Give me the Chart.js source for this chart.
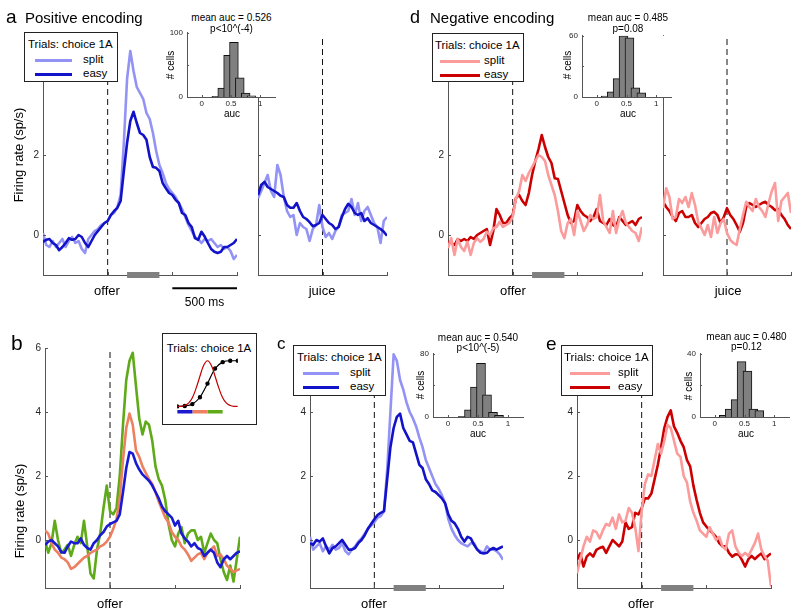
<!DOCTYPE html>
<html lang="en">
<head>
<meta charset="UTF-8">
<title>Positive / negative encoding</title>
<script src="https://cdn.jsdelivr.net/npm/chart.js@4.4.1/dist/chart.umd.min.js"></script>
<style>
  body { margin: 0; background: #fff; }
  #fig { position: relative; width: 800px; height: 615px; overflow: hidden; font-family: Arial, "Liberation Sans", sans-serif; color: #000; }
  #fig canvas, #fig .t, #fig .box, #fig .swatch { position: absolute; }
  .t { white-space: nowrap; line-height: 1; }
  .box { background: #fff; border: 1px solid #222; box-sizing: border-box; }
</style>
</head>
<body>
<div id="fig"></div>
<script>
// time bins, ms from the event
const offerMs = [-500,-475,-450,-425,-400,-375,-350,-325,-300,-275,-250,-225,-200,-175,-150,-125,-100,-75,-50,-25,0,25,50,75,100,125,150,175,200,225,250,275,300,325,350,375,400,425,450,475,500,525,550,575,600,625,650,675,700,725,750,775,800,825,850,875,900,925,950,975,1000];
const juiceMs = [-500,-475,-450,-425,-400,-375,-350,-325,-300,-275,-250,-225,-200,-175,-150,-125,-100,-75,-50,-25,0,25,50,75,100,125,150,175,200,225,250,275,300,325,350,375,400,425,450,475,500];

// a - positive encoding
const aOfferSplit = [0.05,-0.25,-0.3,-0.15,-0.3,-0.2,-0.1,-0.3,-0.15,-0.05,-0.2,-0.15,-0.35,-0.45,-0.1,0,0.1,0.15,0.25,0.3,0.35,0.5,0.55,0.7,1.0,2.3,3.9,4.6,4.1,3.7,3.55,3.4,3.05,2.9,2.55,2.1,1.75,1.55,1.3,1.15,1.05,0.95,0.8,0.65,0.45,0.25,0.1,-0.05,-0.1,-0.2,-0.1,-0.15,-0.1,-0.2,-0.3,-0.25,-0.35,-0.3,-0.4,-0.6,-0.5];
const aOfferEasy = [-0.17,-0.12,-0.1,-0.2,-0.25,-0.38,-0.3,-0.2,-0.08,-0.12,-0.1,0,-0.05,-0.2,-0.3,-0.15,0,0.1,0.2,0.3,0.35,0.5,0.6,0.68,0.85,1.6,2.3,2.85,3.08,2.8,2.55,2.5,2.38,1.95,1.7,1.68,1.6,1.3,1.17,1.05,1.0,0.88,0.8,0.55,0.5,0.3,0.2,-0.08,-0.12,0.08,-0.04,-0.2,-0.35,-0.42,-0.45,-0.42,-0.3,-0.3,-0.25,-0.2,-0.1];
const aJuiceSplit = [0.92,1.1,1.3,1.5,1.1,0.95,1.75,1.5,0.95,0.6,0.45,0.5,0,0.3,0.2,0.15,-0.15,0.15,0.25,0.75,0.2,-0.05,0.05,-0.1,0.1,0.2,0.5,0.55,0.6,0.9,0.5,0.8,0.35,0.6,0.7,0.5,0.3,0.2,-0.2,0.35,0.45];
const aJuiceEasy = [1.0,1.25,1.33,1.2,1.15,1.1,1.05,0.98,0.95,0.75,0.68,0.68,0.8,0.6,0.45,0.4,0.32,0.22,0.25,0.3,0.5,0.4,0.3,0.25,0.15,0.2,0.45,0.65,0.78,0.7,0.55,0.5,0.55,0.35,0.42,0.3,0.25,0.2,0.15,0.08,-0.02];

// d - negative encoding
const dOfferSplit = [-0.33,-0.08,-0.5,-0.1,-0.3,-0.4,-0.17,-0.5,-0.2,-0.08,-0.17,-0.1,0.08,0,0.17,0.2,0.33,0.2,0.25,0.3,0.45,0.9,1.1,1.5,1.35,1.55,1.7,1.85,2.0,1.95,1.85,1.5,1.25,1.0,0.6,0.1,-0.08,0.3,0.4,0,0.6,0.35,0.1,0.25,0.5,0.4,0.45,1.0,0.35,0.2,0.05,0.6,0.05,0.4,0.6,0.3,0.2,0.1,0.05,-0.15,0.2];
const dOfferEasy = [-0.17,-0.2,-0.25,-0.1,-0.15,-0.1,-0.15,-0.05,-0.1,0,0.05,0.1,0.15,-0.25,0.1,0.65,0.5,0.3,0.3,0.42,0.5,0.92,1.0,0.85,0.75,1.05,1.5,1.85,2.15,2.5,2.2,1.95,1.8,1.42,1.4,1.1,0.8,0.5,0.3,0.35,0.75,0.6,0.5,0.45,0.35,0.45,0.65,0.35,0.3,0.25,0.4,0.25,0.2,0.45,0.35,0.25,0.3,0.35,0.25,0.4,0.45];
const dJuiceSplit = [0.67,1.17,0.95,0.4,0.45,0.9,0.8,0.95,0.7,1.05,0.75,0.33,0.17,0,0.25,-0.05,0.45,0.05,0.3,0.4,0.05,-0.12,-0.2,-0.25,0.15,0.5,0.83,0.7,0.6,0.9,0.7,0.6,0.45,0.8,1.1,1.3,0.35,0.85,0.95,1.05,0.55];
const dJuiceEasy = [0.83,0.7,0.6,0.45,0.35,0.55,0.6,0.45,0.45,0.5,0.3,0.2,0.3,0.4,0.45,0.55,0.58,0.5,0.3,0.45,0.67,0.5,0.4,0.25,0.08,0.3,0.7,0.8,0.75,0.7,0.75,0.8,0.83,0.75,0.7,0.62,0.65,0.5,0.4,0.25,0.15];

// b - three difficulty groups
const bLow = [-0.16,-0.05,0,-0.1,-0.2,-0.38,-0.4,-0.2,-0.05,-0.1,-0.1,0.05,-0.15,-0.25,-0.3,-0.1,0,0.15,0.25,0.42,0.5,0.55,0.6,0.8,1.5,2.25,2.75,2.7,2.4,2.2,2.05,1.95,1.85,1.7,1.5,1.3,1.05,0.9,0.8,0.7,0.45,0.6,0.2,0.05,-0.05,-0.2,-0.1,-0.25,-0.3,-0.5,-0.4,-0.3,-0.4,-0.7,-0.85,-0.6,-0.5,-0.6,-0.5,-0.4,-0.35];
const bMid = [0.3,0.2,-0.1,-0.3,-0.4,-0.55,-0.6,-0.7,-0.9,-0.85,-0.75,-0.65,-0.55,-0.5,-0.4,-0.35,-0.3,-0.2,-0.15,-0.05,0.1,0.35,0.65,1.3,2.5,3.5,3.95,3.6,2.8,2.6,2.3,2.1,1.9,1.75,1.5,1.2,0.95,0.7,0.55,0.25,0.1,0,-0.2,-0.3,-0.45,-0.65,-0.55,-0.45,-0.4,-0.6,-0.4,-0.3,-0.2,-0.5,-0.45,-0.6,-0.8,-0.9,-1.0,-0.95,-0.9];
const bHigh = [0,-0.4,-0.1,0.6,0,-0.4,-0.3,-0.15,-0.5,-0.15,0.1,-0.1,0.6,-0.2,-1.05,-1.2,-0.3,0.2,1.0,1.7,0.9,0.8,1.0,2.0,3.6,5.0,5.6,5.85,4.8,3.8,3.3,3.7,3.6,3.1,2.3,1.9,1.7,1.25,0.5,0,-0.2,0.2,0.4,-0.1,0.2,0.3,0.3,0,0.1,-0.4,-0.1,0.2,0,-0.1,-0.6,-1.0,-1.25,-0.8,-1.3,-0.6,0.1];

// c and e
const cSplit = [0.1,-0.3,-0.2,-0.1,-0.35,-0.2,-0.3,-0.15,-0.3,-0.25,-0.1,-0.35,-0.45,-0.3,-0.2,-0.05,0.05,0.2,0.35,0.45,0.55,0.7,0.75,0.9,2.2,4.0,5.8,5.6,5.0,4.7,4.3,4.0,3.8,3.55,3.2,2.9,2.5,2.25,2.0,1.75,1.6,1.4,1.15,0.65,0.35,0.15,0,-0.1,-0.15,-0.2,-0.1,-0.1,-0.3,-0.35,-0.4,-0.2,-0.3,-0.3,-0.35,-0.45,-0.62];
const cEasy = [-0.1,-0.15,0,-0.05,0.05,-0.2,-0.42,-0.25,-0.2,-0.1,0,-0.15,-0.3,-0.3,-0.25,-0.1,0,0.15,0.35,0.5,0.65,0.78,0.85,0.9,1.9,2.9,3.5,3.85,3.95,3.5,3.3,3.1,3.05,2.7,2.35,2.25,1.9,1.75,1.55,1.5,1.4,1.3,1.15,0.8,0.6,0.52,0.35,0.1,-0.05,0.1,0.05,-0.15,-0.3,-0.4,-0.42,-0.4,-0.3,-0.25,-0.3,-0.25,-0.2];
const eSplit = [-1.04,-0.62,-0.2,0.1,-0.05,0.3,0.25,0.05,0.3,0.5,0.45,0.7,0.35,0.8,0.55,0.6,1.0,0.85,0.4,-0.35,0.9,1.75,2.05,2.0,2.5,3.0,2.7,3.1,3.6,3.5,3.1,2.7,2.6,2.0,1.8,1.2,0.85,0.6,0.3,0.2,0.1,0.4,0.2,0,0.1,-0.2,-0.3,0.2,0.3,-0.2,-0.4,-0.5,-0.4,-0.5,-0.3,-0.1,0.2,-0.3,-0.5,-0.65,-1.45];
const eEasy = [-0.62,-0.42,-0.83,-0.52,-0.42,-0.52,-0.31,-0.25,-0.21,-0.4,-0.2,0,-0.1,-0.2,-0.05,0.55,0.35,0.4,0.85,0.8,1.0,1.3,1.3,1.45,1.9,2.35,2.9,3.5,3.85,4.05,3.55,3.35,3.1,2.9,2.5,2.3,1.7,1.25,0.85,0.55,0.42,0.31,0.21,0.1,-0.1,-0.2,-0.2,-0.4,-0.52,-0.45,-0.45,-0.62,-0.83,-0.6,-0.5,-0.6,-0.5,-0.42,-0.6,-0.5,-0.42];

// auc histograms (bin centres, cell counts)
const aucBins = [0.15,0.25,0.35,0.45,0.55,0.65,0.75,0.85];
const aHist = [0,1,14,65,85,30,6,2];
const dHist = [1,5,18,60,58,9,4,0];
const cHist = [0,1,9,38,68,28,6,2];
const eHist = [1,5,11,35,29,5,4,0];

// b legend sketch
const sketchX = [0,0.5,1,1.5,2,2.5,3,3.5,4,4.5,5,5.5,6,6.5,7,7.5,8];
const sketchBell = [0,0,0.02,0.07,0.19,0.4,0.66,0.9,1.0,0.9,0.66,0.4,0.19,0.07,0.02,0,0];
const sketchDotX = [0,1,2,3,4,5,6,7,8];
const sketchSig = [0,0.01,0.05,0.2,0.5,0.83,0.97,1.0,1.0];
const groupEdges = [0,2,4,6];

const windowMs = [150, 400];
const scaleBarMs = [500, 1000];
const yTicksTop = [0, 2, 4];
const yTicksBottom = [0, 2, 4, 6];

const AX = '#555';
const TXT = '#262626';
const splitBlue = '#9393f5', easyBlue = '#1212c8';
const splitRed = '#fb9b9b', easyRed = '#cc0000';
const grpColors = ['#1a1ad2', '#ec8060', '#5faa18'];

Chart.defaults.font.family = 'Arial, "Liberation Sans", sans-serif';
const fig = document.getElementById('fig');

// inward tick marks + optional white plot background
Chart.register({
  id: 'inTicks',
  beforeDraw(chart, args, o) {
    if (!o.bg) return;
    const a = chart.chartArea, ctx = chart.ctx;
    ctx.save(); ctx.fillStyle = '#fff';
    ctx.fillRect(a.left, a.top, a.right - a.left, a.bottom - a.top);
    ctx.restore();
  },
  afterDatasetsDraw(chart, args, o) {
    const {ctx, chartArea: a, scales} = chart;
    const len = o.len || 3;
    ctx.save(); ctx.strokeStyle = AX; ctx.lineWidth = 1; ctx.beginPath();
    (o.x || []).forEach(v => {
      const p = Math.round(scales.x.getPixelForValue(v)) + 0.5;
      ctx.moveTo(p, a.bottom); ctx.lineTo(p, a.bottom - len);
    });
    (o.y || []).forEach(v => {
      const p = Math.round(scales.y.getPixelForValue(v)) + 0.5;
      ctx.moveTo(a.left, p); ctx.lineTo(a.left + len, p);
    });
    ctx.stroke(); ctx.restore();
  }
});

function makeCanvas(plot, pad, yW, xH) {
  const [L, T, R, B] = plot;
  const cv = document.createElement('canvas');
  const w = pad.left + yW + (R - L) + pad.right;
  const h = pad.top + (B - T) + xH + pad.bottom;
  cv.width = w; cv.height = h;
  cv.style.left = (L - yW - pad.left) + 'px';
  cv.style.top = (T - pad.top) + 'px';
  cv.style.width = w + 'px'; cv.style.height = h + 'px';
  fig.appendChild(cv);
  return cv;
}

function scales(o) {
  return {
    x: {
      type: 'linear', min: o.x[0], max: o.x[1],
      border: { color: AX, width: 1 },
      grid: { display: false, drawTicks: false },
      ticks: { display: !!o.xLab, padding: 2, color: TXT, font: { size: o.fs }, maxRotation: 0, autoSkip: false,
               callback: v => o.xLab ? o.xLab(v) : '' },
      afterBuildTicks: s => { s.ticks = o.xt.map(v => ({ value: v })); },
      afterFit: s => { s.height = o.xH; }
    },
    y: {
      min: o.y[0], max: o.y[1],
      border: { color: AX, width: 1 },
      grid: { display: false, drawTicks: false },
      ticks: { display: !!o.yLab, padding: 4, color: TXT, font: { size: o.fs }, autoSkip: false,
               callback: v => o.yLab ? o.yLab(v) : '' },
      afterBuildTicks: s => { s.ticks = o.yt.map(v => ({ value: v })); },
      afterFit: s => { s.width = o.yW; }
    }
  };
}

// firing rate traces; lines listed top-most first
function traceChart(plot, times, lines, o) {
  const yW = o.labels ? 28 : 2;
  const pad = { left: 2, top: 10, right: 8, bottom: o.padB || 10 };
  const cv = makeCanvas(plot, pad, yW, 0);
  const datasets = lines.map((ln, k) => ({
    data: times.map((t, i) => ({ x: t, y: ln.v[i] })),
    borderColor: ln.c, borderWidth: 2.6, pointRadius: 0, tension: 0,
    borderJoinStyle: 'round', order: k + 1
  }));
  datasets.push({ data: [{ x: 0, y: o.y[0] }, { x: 0, y: o.y[1] }], borderColor: '#111',
    borderWidth: 1, borderDash: [6, 4], pointRadius: 0, order: 50 });
  if (o.win) datasets.push({ data: windowMs.map(t => ({ x: t, y: o.y[0] })), borderColor: '#808080',
    borderWidth: 6, pointRadius: 0, clip: false, order: 0 });
  if (o.bar) datasets.push({ data: scaleBarMs.map(t => ({ x: t, y: o.bar })), borderColor: '#000',
    borderWidth: 2, pointRadius: 0, clip: false, order: 0 });
  const xt = times[times.length - 1] > 500 ? [-500, 0, 500, 1000] : [-500, 0, 500];
  const hideAbove = o.labelMax === undefined ? Infinity : o.labelMax;
  new Chart(cv, {
    type: 'line',
    data: { datasets },
    options: {
      responsive: false, animation: false, devicePixelRatio: 1,
      layout: { padding: pad },
      plugins: { legend: { display: false }, tooltip: { enabled: false }, inTicks: { x: xt, y: o.yt } },
      scales: scales({ x: [times[0], times[times.length - 1]], y: o.y, xt, yt: o.yt, xH: 0, yW,
                       fs: 10, yLab: o.labels ? (v => (v > hideAbove ? '' : String(v))) : null })
    }
  });
}

function histChart(plot, counts, top) {
  const pad = { left: 2, top: 8, right: 8, bottom: 2 };
  const yW = 22, xH = 12;
  const cv = makeCanvas(plot, pad, yW, xH);
  const pts = aucBins.map((b, i) => ({ x: b, y: counts[i] })).filter(p => p.y > 0);
  const yt = [0, top / 2, top];
  new Chart(cv, {
    type: 'bar',
    data: { datasets: [{ data: pts, backgroundColor: '#808080', borderColor: '#111', borderWidth: 1,
                         barThickness: (plot[2] - plot[0]) / 10 }] },
    options: {
      responsive: false, animation: false, devicePixelRatio: 1,
      layout: { padding: pad },
      plugins: { legend: { display: false }, tooltip: { enabled: false },
                 inTicks: { x: [0, 0.5, 1], y: yt, bg: true, len: 2 } },
      scales: scales({ x: [0, 1], y: [0, top], xt: [0, 0.5, 1], yt, xH, yW, fs: 8,
                       xLab: v => String(v), yLab: v => (v === top / 2 ? '' : String(v)) })
    }
  });
}

function sketchChart(plot) {
  const pad = { left: 3, top: 3, right: 3, bottom: 3 };
  const cv = makeCanvas(plot, pad, 0, 0);
  const datasets = [
    { data: sketchX.map((x, i) => ({ x, y: sketchBell[i] })), borderColor: '#c00000', borderWidth: 1.2,
      pointRadius: 0, tension: 0.4 },
    { data: sketchDotX.map((x, i) => ({ x, y: sketchSig[i] })), borderColor: '#000', borderWidth: 1.2,
      pointRadius: 1.6, pointBackgroundColor: '#000', cubicInterpolationMode: 'monotone' }
  ];
  grpColors.forEach((c, k) => datasets.push({
    data: [{ x: groupEdges[k], y: -0.12 }, { x: groupEdges[k + 1], y: -0.12 }],
    borderColor: c, borderWidth: 3.5, pointRadius: 0, borderCapStyle: 'butt'
  }));
  new Chart(cv, {
    type: 'line', data: { datasets },
    options: {
      responsive: false, animation: false, devicePixelRatio: 1,
      layout: { padding: pad },
      plugins: { legend: { display: false }, tooltip: { enabled: false } },
      scales: { x: { type: 'linear', display: false, min: 0, max: 8 },
                y: { display: false, min: -0.25, max: 1.1 } }
    }
  });
}

function t(str, x, y, size, align, extra) {
  const d = document.createElement('div');
  d.className = 't';
  d.textContent = str;
  d.style.left = x + 'px'; d.style.top = y + 'px'; d.style.fontSize = size + 'px';
  const tx = align === 'l' ? '0' : align === 'r' ? '-100%' : '-50%';
  d.style.transform = 'translate(' + tx + ', -50%)' + (extra || '');
  fig.appendChild(d);
}

function box(x, y, w, h) {
  const d = document.createElement('div');
  d.className = 'box';
  Object.assign(d.style, { left: x + 'px', top: y + 'px', width: w + 'px', height: h + 'px' });
  fig.appendChild(d);
}

function legend(x, y, w, h, cols, lx0, lx1, tx, ttl) {
  box(x, y, w, h);
  t('Trials: choice 1A', x + ttl, y + 13, 11.5, 'l');
  ['split', 'easy'].forEach((name, k) => {
    const cy = y + 28 + 14 * k;
    const s = document.createElement('div');
    s.className = 'swatch';
    Object.assign(s.style, { left: (x + lx0) + 'px', top: (cy - 1.5) + 'px', width: (lx1 - lx0) + 'px',
                             height: '3px', background: cols[k] });
    fig.appendChild(s);
    t(name, x + tx, cy - 0.5, 11.5, 'l');
  });
}

// ---- main traces ----
traceChart([43, 35, 237, 275], offerMs, [{ v: aOfferEasy, c: easyBlue }, { v: aOfferSplit, c: splitBlue }],
  { y: [-1, 5], yt: yTicksTop, labels: true, win: true, bar: -1.33, padB: 20, labelMax: 2 });
traceChart([258, 35, 387, 275], juiceMs, [{ v: aJuiceEasy, c: easyBlue }, { v: aJuiceSplit, c: splitBlue }],
  { y: [-1, 5], yt: yTicksTop });
traceChart([448, 35, 642, 275], offerMs, [{ v: dOfferSplit, c: splitRed }, { v: dOfferEasy, c: easyRed }],
  { y: [-1, 5], yt: yTicksTop, labels: true, win: true, labelMax: 2 });
traceChart([663, 35, 791, 275], juiceMs, [{ v: dJuiceSplit, c: splitRed }, { v: dJuiceEasy, c: easyRed }],
  { y: [-1, 5], yt: yTicksTop });
traceChart([45, 348, 240, 588], offerMs,
  [{ v: bLow, c: grpColors[0] }, { v: bMid, c: grpColors[1] }, { v: bHigh, c: grpColors[2] }],
  { y: [-1.5, 6], yt: yTicksBottom, labels: true });
traceChart([310, 348, 503, 588], offerMs, [{ v: cEasy, c: easyBlue }, { v: cSplit, c: splitBlue }],
  { y: [-1.5, 6], yt: yTicksBottom, labels: true, win: true, labelMax: 4 });
traceChart([577, 348, 771, 588], offerMs, [{ v: eSplit, c: splitRed }, { v: eEasy, c: easyRed }],
  { y: [-1.5, 6], yt: yTicksBottom, labels: true, win: true, labelMax: 4 });

// ---- legends ----
legend(24, 32, 94, 50, [splitBlue, easyBlue], 11, 48, 59, 4);
legend(432, 33, 92, 49, [splitRed, easyRed], 8, 48, 52, 3);
legend(293, 345, 93, 51, [splitBlue, easyBlue], 10, 46, 57, 4);
legend(561, 345, 92, 51, [splitRed, easyRed], 9, 49, 57, 3);
box(162, 333, 95, 92);
t('Trials: choice 1A', 209, 349, 11.5, 'c');
sketchChart([175, 354, 240, 420]);

// ---- auc insets ----
histChart([187, 32, 275, 97], aHist, 100);
histChart([582, 35, 671, 97], dHist, 60);
histChart([433, 353, 523, 417], cHist, 80);
histChart([700, 353, 789, 417], eHist, 40);

t('mean auc = 0.526', 231.5, 18.3, 10, 'c'); t('p<10^(-4)', 231.5, 29, 10, 'c');
t('mean auc = 0.485', 628, 17.5, 10, 'c');  t('p=0.08', 628, 28.7, 10, 'c');
t('mean auc = 0.540', 478, 337.5, 10, 'c'); t('p<10^(-5)', 478, 347.5, 10, 'c');
t('mean auc = 0.480', 746.5, 337, 10, 'c'); t('p=0.12', 746.5, 347, 10, 'c');
t('auc', 232, 113.5, 10, 'c'); t('auc', 628, 113.5, 10, 'c');
t('auc', 478, 434, 10, 'c'); t('auc', 746, 434, 10, 'c');
t('# cells', 170.5, 64.5, 10, 'c', ' rotate(-90deg)');
t('# cells', 567.5, 65, 10, 'c', ' rotate(-90deg)');
t('# cells', 421, 385, 10, 'c', ' rotate(-90deg)');
t('# cells', 689, 386, 10, 'c', ' rotate(-90deg)');

// ---- labels ----
t('a', 6, 15.5, 19, 'l'); t('Positive encoding', 25, 17, 15, 'l');
t('d', 410, 16.5, 18, 'l'); t('Negative encoding', 430, 17, 15, 'l');
t('b', 11, 341.5, 21, 'l'); t('c', 277, 343, 17, 'l'); t('e', 546, 342.5, 19, 'l');
t('Firing rate (sp/s)', 17.5, 155, 13, 'c', ' rotate(-90deg)');
t('Firing rate (sp/s)', 19, 511, 13, 'c', ' rotate(-90deg)');
t('offer', 107, 290, 13, 'c'); t('juice', 322, 290, 13, 'c'); t('500 ms', 204.5, 302, 12, 'c');
t('offer', 513, 290, 13, 'c'); t('juice', 728, 290, 13, 'c');
t('offer', 110, 603, 13, 'c'); t('offer', 374, 603, 13, 'c'); t('offer', 641, 603, 13, 'c');
</script>
</body>
</html>
